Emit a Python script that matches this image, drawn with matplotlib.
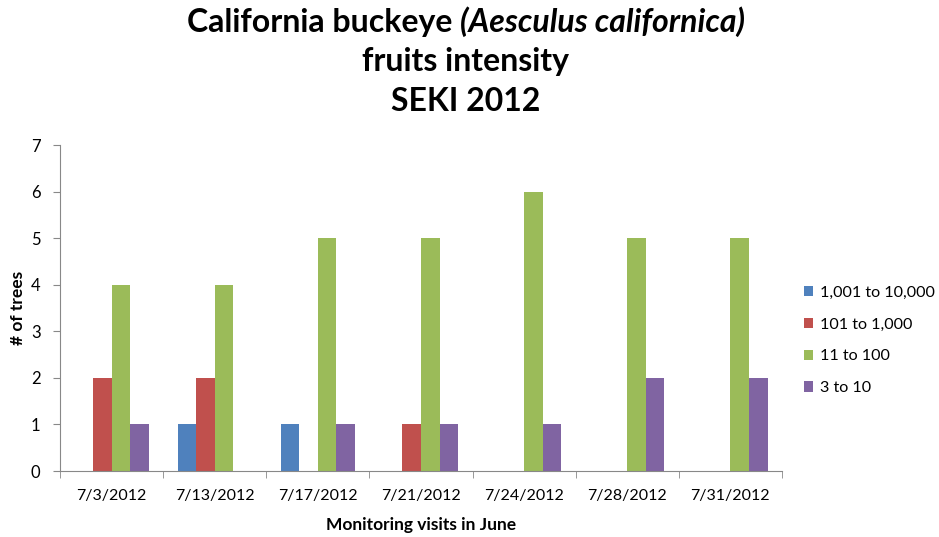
import matplotlib
matplotlib.use("Agg")
import matplotlib.pyplot as plt
import numpy as np

categories = ["7/3/2012", "7/13/2012", "7/17/2012", "7/21/2012", "7/24/2012", "7/28/2012", "7/31/2012"]
series_names = ["1,001 to 10,000", "101 to 1,000", "11 to 100", "3 to 10"]
s_1001_10000 = [0, 1, 1, 0, 0, 0, 0]
s_101_1000 = [2, 2, 0, 1, 0, 0, 0]
s_11_100 = [4, 4, 5, 5, 6, 5, 5]
s_3_10 = [1, 0, 1, 1, 1, 2, 2]
colors = ["#4F81BD", "#C0504D", "#9BBB59", "#8064A2"]

plt.rcParams['font.family'] = ['Lato', 'DejaVu Sans']

fig = plt.figure(figsize=(9.39, 5.37), dpi=100)
ax = fig.add_axes([60/939, 1-471/537, (782-60)/939, (471-145)/537])

x = np.arange(len(categories))
w = 0.18
all_series = [s_1001_10000, s_101_1000, s_11_100, s_3_10]
for i, (vals, name, c) in enumerate(zip(all_series, series_names, colors)):
    ax.bar(x + (i - 1.5) * w, vals, width=w, color=c, label=name, linewidth=0)

ax.set_xlim(-0.5, len(categories) - 0.5)
ax.set_ylim(0, 7)
ax.set_yticks(range(0, 8))
ax.set_xticks(x)
ax.set_xticklabels(categories, fontsize=11.5)
ax.set_xticks(np.arange(-0.5, len(categories)), minor=True)
ax.tick_params(axis='x', which='major', length=0, pad=13)
ax.tick_params(axis='x', which='minor', length=5, color='#888888', direction='out')
ax.tick_params(axis='y', length=5, color='#888888', labelsize=12, pad=9)
for s in ['top', 'right']:
    ax.spines[s].set_visible(False)
for s in ['left', 'bottom']:
    ax.spines[s].set_color('#888888')
ax.set_ylabel('# of trees', fontsize=12.5, fontweight='bold')
ax.yaxis.set_label_coords(-0.047, 0.5)
ax.set_xlabel('Monitoring visits in June', fontsize=12.5, fontweight='bold', labelpad=10)

leg = ax.legend(loc='center left', bbox_to_anchor=(1.01, 0.40), frameon=False,
                fontsize=11.6, handlelength=0.6, handleheight=0.6, handletextpad=0.4,
                labelspacing=1.1)

# Title: three lines, first line with italic portion
cx = 466 / 939
fs = 23
fig.canvas.draw()
r = fig.canvas.get_renderer()
t1 = fig.text(0, 0, "California buckeye ", fontsize=fs, fontweight='bold')
t2 = fig.text(0, 0, "(Aesculus californica)", fontsize=fs, fontweight='bold', style='italic')
w1 = t1.get_window_extent(r).width / 939
w2 = t2.get_window_extent(r).width / 939
x0 = cx - (w1 + w2) / 2
y1 = 1 - 32/537
t1.set_position((x0, y1)); t1.set_va('baseline')
t2.set_position((x0 + w1, y1)); t2.set_va('baseline')
fig.text(cx, 1 - 71/537, "fruits intensity", fontsize=fs, fontweight='bold', ha='center', va='baseline')
fig.text(cx, 1 - 111/537, "SEKI 2012", fontsize=fs, fontweight='bold', ha='center', va='baseline')

fig.savefig("out.png", dpi=100)
